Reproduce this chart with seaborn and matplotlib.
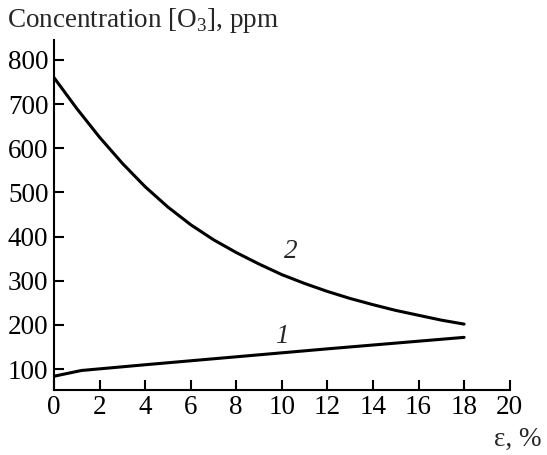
import matplotlib
matplotlib.use("Agg")
import matplotlib.pyplot as plt
import seaborn as sns
import pandas as pd

# Strain (epsilon, %) and ozone concentration (ppm) for the two curves
eps_1 = [0, 1.2, 4, 8, 12, 18]
o3_1 = [84, 97, 110, 128, 146, 172]

eps_2 = [0, 1, 2, 3, 4, 5, 6, 7, 8, 9, 10, 11, 12, 13, 14, 15, 16, 17, 18]
o3_2 = [760, 690, 625, 566, 513, 467, 427, 393, 364, 338, 314, 294,
        276, 260, 246, 233, 222, 211, 202]

x_ticks = [0, 2, 4, 6, 8, 10, 12, 14, 16, 18, 20]
y_ticks = [100, 200, 300, 400, 500, 600, 700, 800]

df = pd.concat([
    pd.DataFrame({"eps": eps_1, "o3": o3_1, "curve": "1"}),
    pd.DataFrame({"eps": eps_2, "o3": o3_2, "curve": "2"}),
])

sns.set_style("ticks")
plt.rcParams["font.family"] = ["Liberation Serif", "DejaVu Serif"]
plt.rcParams["mathtext.fontset"] = "custom"
plt.rcParams["mathtext.rm"] = "Liberation Serif"

FS = 19.5

fig = plt.figure(figsize=(5.47, 4.55), dpi=100)
ax = fig.add_axes([0.0987, 0.143, 0.833, 0.769])

sns.lineplot(data=df, x="eps", y="o3", units="curve", estimator=None,
             color="black", linewidth=2.2, ax=ax, sort=False)
for line in ax.get_lines():
    line.set_solid_joinstyle("round")

ax.set_xlim(0, 20)
ax.set_ylim(53, 845)
ax.set_xticks(x_ticks)
ax.set_yticks(y_ticks)
ax.tick_params(direction="in", length=7, width=1.5, labelsize=FS,
               colors="black", pad=4)
for side in ("top", "right"):
    ax.spines[side].set_visible(False)
for side in ("left", "bottom"):
    ax.spines[side].set_linewidth(1.5)
    ax.spines[side].set_color("black")
ax.set_xlabel("")
ax.set_ylabel("")

ax.text(10.4, 366, "2", fontsize=FS, style="italic", ha="center", va="center")
ax.text(10.0, 174, "1", fontsize=FS, style="italic", ha="center", va="center")

fig.text(0.012, 0.955, "Concentration [O$_\\mathregular{3}$], ppm", fontsize=FS,
         ha="left", va="center")
fig.text(0.99, 0.035, "ε, %", fontsize=FS, ha="right", va="center")

fig.savefig("out.png", dpi=100, facecolor="white")
